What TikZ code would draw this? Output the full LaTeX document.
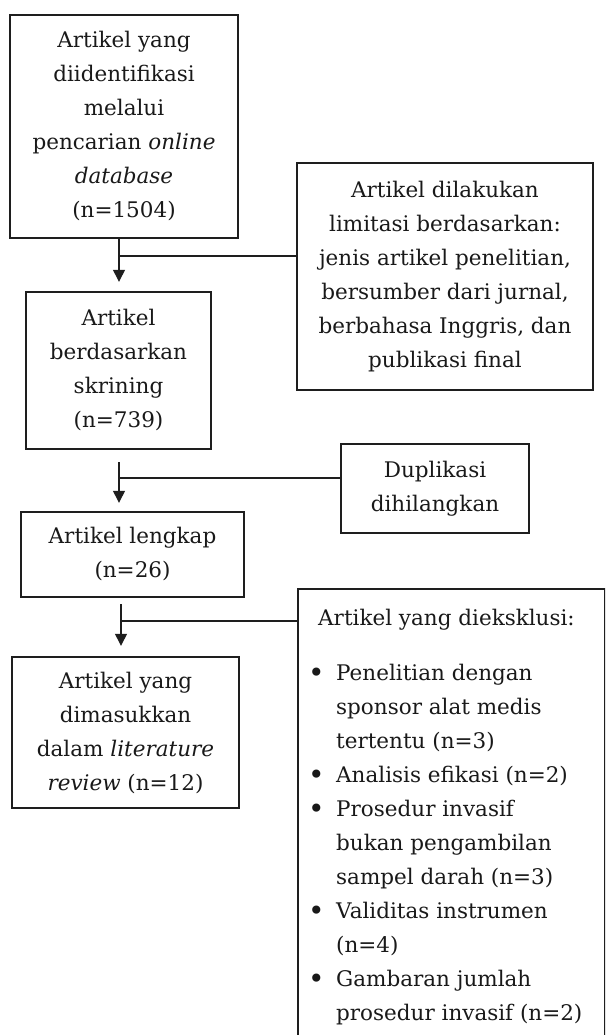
\documentclass[tikz,border=0pt]{standalone}
\usepackage{fontspec}
\setmainfont{DejaVu Serif}
\usetikzlibrary{arrows.meta,positioning}
\usepackage{xcolor}
\definecolor{lineblack}{RGB}{30,30,30}
\definecolor{textblack}{RGB}{25,25,25}
\newcommand{\boxfont}{\fontsize{21.5}{34}\selectfont}
\newcommand{\itemdot}{\makebox[28pt][l]{\raisebox{-2pt}{\fontsize{28}{34}\selectfont\textbullet}}}

\begin{document}
\begin{tikzpicture}[
    x=1pt,y=-1pt,
    box/.style={rectangle,draw=lineblack,line width=2.4pt,align=center,
                inner sep=0pt,font=\boxfont,text=textblack},
    arrow/.style={-{Triangle[length=12pt,width=12pt]},line width=1.3pt,draw=lineblack},
    link/.style={line width=1.3pt,draw=lineblack}
]
    \useasboundingbox (0,0) rectangle (605,1035);
    \clip (0,0) rectangle (605,1035);

    \node[box,minimum width=228pt,minimum height=223pt] (found) at (124,126.5)
        {Artikel yang\\diidentifikasi\\melalui\\pencarian \textit{online}\\\textit{database}\\(n=1504)};
    \node[box,minimum width=296pt,minimum height=227pt] (limit) at (445,276.5)
        {Artikel dilakukan\\limitasi berdasarkan:\\jenis artikel penelitian,\\bersumber dari jurnal,\\berbahasa Inggris, dan\\publikasi final};
    \node[box,minimum width=185pt,minimum height=157pt] (screen) at (118.5,370.5)
        {Artikel\\berdasarkan\\skrining\\(n=739)};
    \node[box,minimum width=188pt,minimum height=89pt] (dup) at (435,488.5)
        {Duplikasi\\dihilangkan};
    \node[box,minimum width=223pt,minimum height=85pt] (full) at (132.5,554.5)
        {Artikel lengkap\\(n=26)};
    \node[box,minimum width=227pt,minimum height=151pt] (incl) at (125.5,732.5)
        {Artikel yang\\dimasukkan\\dalam \textit{literature}\\\textit{review} (n=12)};
    \node[box,minimum width=307pt,minimum height=470pt,anchor=north west] (excl) at (297,588) {};
    \node[anchor=north west,inner sep=0pt,font=\boxfont,text=textblack] (excltext) at (308,601)
        {\begin{tabular}{@{}l@{}l@{}}
         \multicolumn{2}{@{\hspace{10pt}}l@{}}{Artikel yang dieksklusi:}\\[21pt]
         \itemdot & Penelitian dengan\\
          & sponsor alat medis\\
          & tertentu (n=3)\\
         \itemdot & Analisis efikasi (n=2)\\
         \itemdot & Prosedur invasif\\
          & bukan pengambilan\\
          & sampel darah (n=3)\\
         \itemdot & Validitas instrumen\\
          & (n=4)\\
         \itemdot & Gambaran jumlah\\
          & prosedur invasif (n=2)
         \end{tabular}};

    \coordinate (j1) at (119,256);
    \coordinate (j2) at (119,478);
    \coordinate (j3) at (121,621);
    \draw[arrow,shorten >=9pt] (found.south -| j1) -- (screen.north -| j1);
    \draw[link] (j1) -- (j1 -| limit.west);
    \draw[arrow,shorten <=12pt,shorten >=8pt] (screen.south -| j2) -- (full.north -| j2);
    \draw[link] (j2) -- (j2 -| dup.west);
    \draw[arrow,shorten <=6pt,shorten >=10pt] (full.south -| j3) -- (incl.north -| j3);
    \draw[link] (j3) -- (j3 -| excl.west);
\end{tikzpicture}
\end{document}
